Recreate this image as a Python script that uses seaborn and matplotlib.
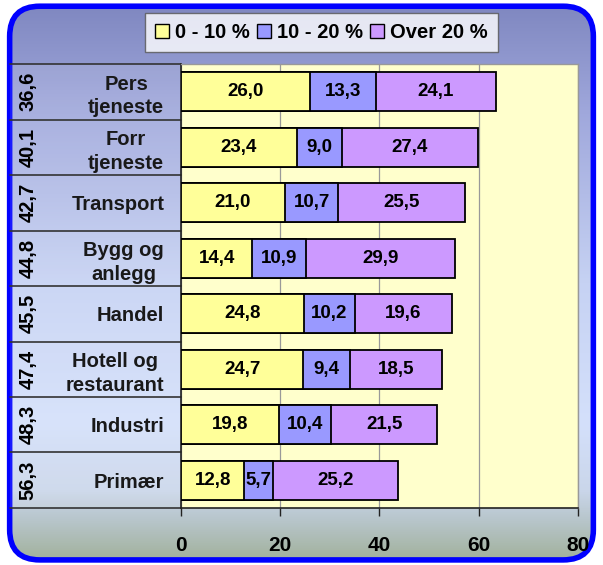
import numpy as np
import pandas as pd
import matplotlib
matplotlib.use("Agg")
import matplotlib.pyplot as plt
import matplotlib.transforms as mtransforms
from matplotlib.colors import LinearSegmentedColormap
from matplotlib.patches import FancyBboxPatch, Patch, Rectangle
import seaborn as sns

# data
sectors = ["Pers\ntjeneste", "Forr\ntjeneste", "Transport", "Bygg og\nanlegg",
           "Handel", "Hotell og\nrestaurant", "Industri", "Primær"]
share_total = [36.6, 40.1, 42.7, 44.8, 45.5, 47.4, 48.3, 56.3]
low = [26.0, 23.4, 21.0, 14.4, 24.8, 24.7, 19.8, 12.8]
mid = [13.3, 9.0, 10.7, 10.9, 10.2, 9.4, 10.4, 5.7]
high = [24.1, 27.4, 25.5, 29.9, 19.6, 18.5, 21.5, 25.2]
series_names = ["0 - 10 %", "10 - 20 %", "Over 20 %"]
x_ticks = [0, 20, 40, 60, 80]

colors = ["#ffff99", "#9999ff", "#cc99ff"]

sns.set_style("white")
plt.rcParams["font.family"] = ["Liberation Sans", "DejaVu Sans"]
plt.rcParams["font.weight"] = "bold"
plt.rcParams["text.color"] = "black"
plt.rcParams["xtick.color"] = "black"
plt.rcParams["ytick.color"] = "black"

df = pd.DataFrame({"sector": sectors, "low": low, "mid": mid, "high": high})
df["low_mid"] = df["low"] + df["mid"]
df["all"] = df["low_mid"] + df["high"]

def fmt(v):
    return f"{v:.1f}".replace(".", ",")

fig = plt.figure(figsize=(6.03, 5.65), dpi=100)
fig.patch.set_facecolor("white")

# gradient background inside a rounded blue frame
bg = fig.add_axes([0, 0, 1, 1], zorder=-10)
bg.set_xlim(0, 1)
bg.set_ylim(0, 1)
bg.axis("off")
grad_cmap = LinearSegmentedColormap.from_list(
    "bg", [(0.0, "#9faf97"), (0.08, "#b8c6cc"), (0.13, "#cad6ea"),
           (0.25, "#d4e0fb"), (0.5, "#c6d2f3"), (0.8, "#a0a8dc"), (1.0, "#7e86bf")])
grad = np.linspace(0, 1, 256).reshape(-1, 1)
img = bg.imshow(grad, aspect="auto", extent=[0, 1, 0, 1], origin="lower", cmap=grad_cmap)
frame = FancyBboxPatch((0.016, 0.009), 0.968, 0.98,
                       boxstyle="round,pad=0,rounding_size=0.05",
                       mutation_aspect=603 / 565,
                       transform=bg.transAxes, facecolor="none",
                       edgecolor="#0000ff", lw=4)
bg.add_patch(frame)
img.set_clip_path(frame)

ax = fig.add_axes([0.300, 0.1009, 0.6584, 0.7858])
ax.set_facecolor("#ffffcc")

# stacked bars: draw cumulative totals back to front
for col, c in zip(["all", "low_mid", "low"], colors[::-1]):
    sns.barplot(data=df, x=col, y="sector", orient="h", color=c, saturation=1,
                edgecolor="black", linewidth=1.3, width=0.7, ax=ax, zorder=3)

for i, row in df.iterrows():
    ax.text(row["low"] / 2, i, fmt(row["low"]), ha="center", va="center", fontsize=13.5, zorder=5)
    ax.text(row["low"] + row["mid"] / 2, i, fmt(row["mid"]), ha="center", va="center", fontsize=13.5, zorder=5)
    ax.text(row["low_mid"] + row["high"] / 2, i, fmt(row["high"]), ha="center", va="center", fontsize=13.5, zorder=5)

ax.set_xlim(0, 80)
ax.set_ylim(7.5, -0.5)
ax.set_xticks(x_ticks)
ax.xaxis.grid(True, color="#999999", lw=0.9)
ax.set_axisbelow(True)
ax.set_xlabel("")
ax.set_ylabel("")
for s in ["top", "right"]:
    ax.spines[s].set_color("#999999")
    ax.spines[s].set_linewidth(1)
for s in ["left", "bottom"]:
    ax.spines[s].set_color("#222222")
    ax.spines[s].set_linewidth(1.2)
ax.tick_params(axis="x", bottom=True, direction="out", length=6, width=1, color="#222222",
               labelsize=15, pad=14)
ax.tick_params(axis="y", length=0, labelsize=14.5, pad=12)
for t in ax.get_yticklabels():
    t.set_multialignment("center")
    t.set_linespacing(1.3)

# left table with the rotated numbers
trans = mtransforms.blended_transform_factory(ax.transAxes, ax.transData)
ax.add_patch(Rectangle((-0.43, -0.5), 0.43, 8, transform=trans, facecolor="white",
                       alpha=0.1, edgecolor="none", clip_on=False))
for b in np.arange(-0.5, 8, 1):
    ax.plot([-0.43, 0], [b, b], transform=trans, color="#333333", lw=1.2, clip_on=False)
for i, v in enumerate(share_total):
    ax.text(-0.385, i, fmt(v), transform=trans, rotation=90, ha="center", va="center", fontsize=14.5)

handles = [Patch(facecolor=c, edgecolor="black", lw=1) for c in colors]
leg = fig.legend(handles, series_names, loc="center", bbox_to_anchor=(0.533, 0.943), ncol=3,
                 fontsize=14.5, frameon=True, fancybox=False, handlelength=0.7, handleheight=0.7,
                 handletextpad=0.3, columnspacing=0.35, borderpad=0.5, borderaxespad=0)
leg.get_frame().set_edgecolor("#555555")
leg.get_frame().set_linewidth(1)

fig.savefig("out.png", dpi=100)
